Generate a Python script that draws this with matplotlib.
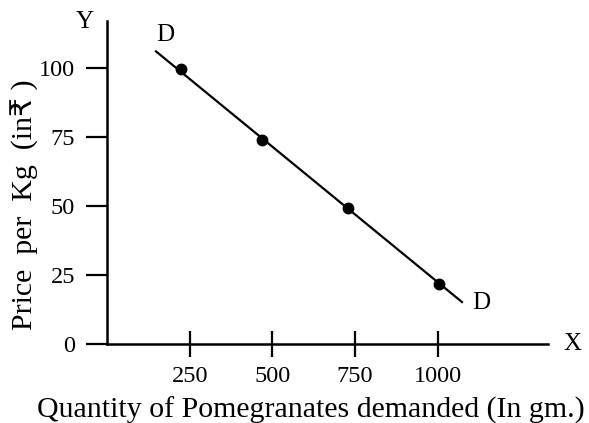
import matplotlib.pyplot as plt

# demand schedule
quantity = [224, 470, 727, 1003]
price = [99.5, 74, 49.3, 21.7]

# demand curve DD end points
curve_q = [148, 1073]
curve_p = [106, 15.2]

xticks = [250, 500, 750, 1000]
yticks = [0, 25, 50, 75, 100]

plt.rcParams['font.family'] = ['Liberation Serif', 'DejaVu Sans']

W, H = 589, 423
fig = plt.figure(figsize=(W / 100, H / 100), dpi=100)
ax = fig.add_axes([107 / W, (H - 344) / H, (548 - 107) / W, (344 - 21) / H])

ax.plot(curve_q, curve_p, color='black', lw=1.6)
ax.plot(quantity, price, 'o', color='black', ms=7.5)

ax.text(176, 112, 'D', fontsize=18, ha='center', va='center')
ax.text(1130, 15, 'D', fontsize=18, ha='center', va='center')

ax.set_xlim(0, 1333)
ax.set_ylim(0, 117)
ax.set_xticks(xticks)
ax.set_yticks(yticks)
ax.tick_params(axis='both', width=1.6, labelsize=17.5)
ax.tick_params(axis='x', direction='inout', length=19, pad=6)
ax.tick_params(axis='y', direction='out', length=15, pad=8)

for s in ['top', 'right']:
    ax.spines[s].set_visible(False)
for s in ['left', 'bottom']:
    ax.spines[s].set_linewidth(1.8)

fig.text(85 / W, 1 - 22 / H, 'Y', fontsize=18, ha='center', va='center')
fig.text(572 / W, 1 - 344 / H, 'X', fontsize=18, ha='center', va='center')

fig.text(311 / W, 1 - 410 / H, 'Quantity of Pomegranates demanded (In gm.)',
         fontsize=21.5, ha='center', va='center')
fig.text(25 / W, 1 - 205 / H, 'Price  per  Kg  (in\u20b9 )', fontsize=21.5,
         ha='center', va='center', rotation=90)

fig.savefig('out.png', dpi=100)
